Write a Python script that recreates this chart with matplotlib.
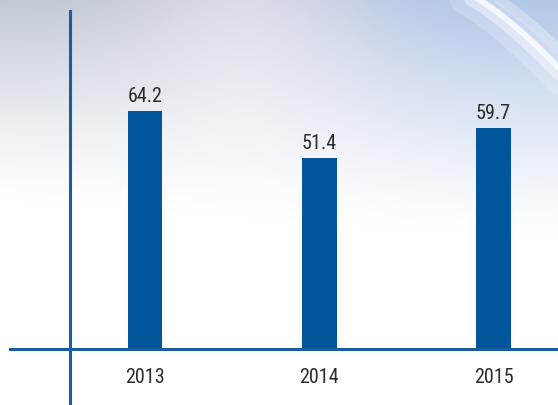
import numpy as np
import matplotlib.pyplot as plt

years = ["2013", "2014", "2015"]
values = [64.2, 51.4, 59.7]

bar_color = "#00559b"
line_color = "#1a5c9e"
text_color = "#2b2b2b"
font = ["Liberation Sans Narrow", "Roboto Condensed", "Liberation Sans", "DejaVu Sans"]

W, H = 558, 405
fig = plt.figure(figsize=(W / 100, H / 100), dpi=100)

# soft backdrop: grey-blue at the top fading to white, bluer to the right
bg = fig.add_axes([0, 0, 1, 1], zorder=0)
yy, xx = np.mgrid[0:H, 0:W]
fx = xx / W
t = np.clip(1 - yy / (200 + 40 * fx), 0, 1) ** 1.2
left_top = np.array([0.76, 0.79, 0.84])
mid_top = np.array([0.86, 0.86, 0.91])
right_top = np.array([0.70, 0.78, 0.91])
w_mid = np.exp(-((fx - 0.45) / 0.22) ** 2)
w_right = np.clip((fx - 0.45) / 0.4, 0, 1)
w_left = np.clip(1 - w_mid - w_right, 0, 1)
norm = w_left + w_mid + w_right
top = (left_top[None, None, :] * w_left[..., None]
       + mid_top[None, None, :] * w_mid[..., None]
       + right_top[None, None, :] * w_right[..., None]) / norm[..., None]
img = np.ones((H, W, 3)) * (1 - t[..., None]) + top * t[..., None]
bg.imshow(img, extent=[0, W, H, 0], aspect="auto")
# light swoosh in the corner
s = np.linspace(0, 1, 80)
for off, lw, a in [(0, 22, 0.2), (4, 10, 0.4), (8, 4, 0.7), (22, 7, 0.3)]:
    sx = 455 + off + 110 * s
    sy = -5 + 90 * s ** 1.3 - off * 0.3
    bg.plot(sx, sy, color="white", lw=lw, alpha=a, solid_capstyle="round")
bg.set_xlim(0, W)
bg.set_ylim(H, 0)
bg.axis("off")

ax = fig.add_axes([0, 0, 1, 1], zorder=1)
ax.patch.set_alpha(0)

x = np.arange(len(years))
ax.bar(x, values, width=0.2, color=bar_color, zorder=2)
for xi, v in zip(x, values):
    ax.annotate(f"{v}", (xi, v), xytext=(0, 3.5), textcoords="offset points",
                ha="center", va="bottom", fontsize=14.5, color=text_color, family=font)

ax.set_xlim(-0.832, 2.37)
ax.set_ylim(-15.09, 94.07)

ax.spines[["top", "right"]].set_visible(False)
ax.spines["bottom"].set_position(("data", 0))
ax.spines["bottom"].set_bounds(-0.775, 2.37)
ax.spines["left"].set_position(("data", -0.43))
ax.spines["left"].set_bounds(-15.09, 91.1)
for sp in ["bottom", "left"]:
    ax.spines[sp].set_color(line_color)
    ax.spines[sp].set_linewidth(2.2)
    ax.spines[sp].set_zorder(3)

ax.set_xticks(x, years)
ax.set_yticks([])
ax.tick_params(axis="x", length=0, pad=14, labelsize=14.5, labelcolor=text_color)
for lbl in ax.get_xticklabels():
    lbl.set_family(font)

fig.savefig("out.png", dpi=100)
